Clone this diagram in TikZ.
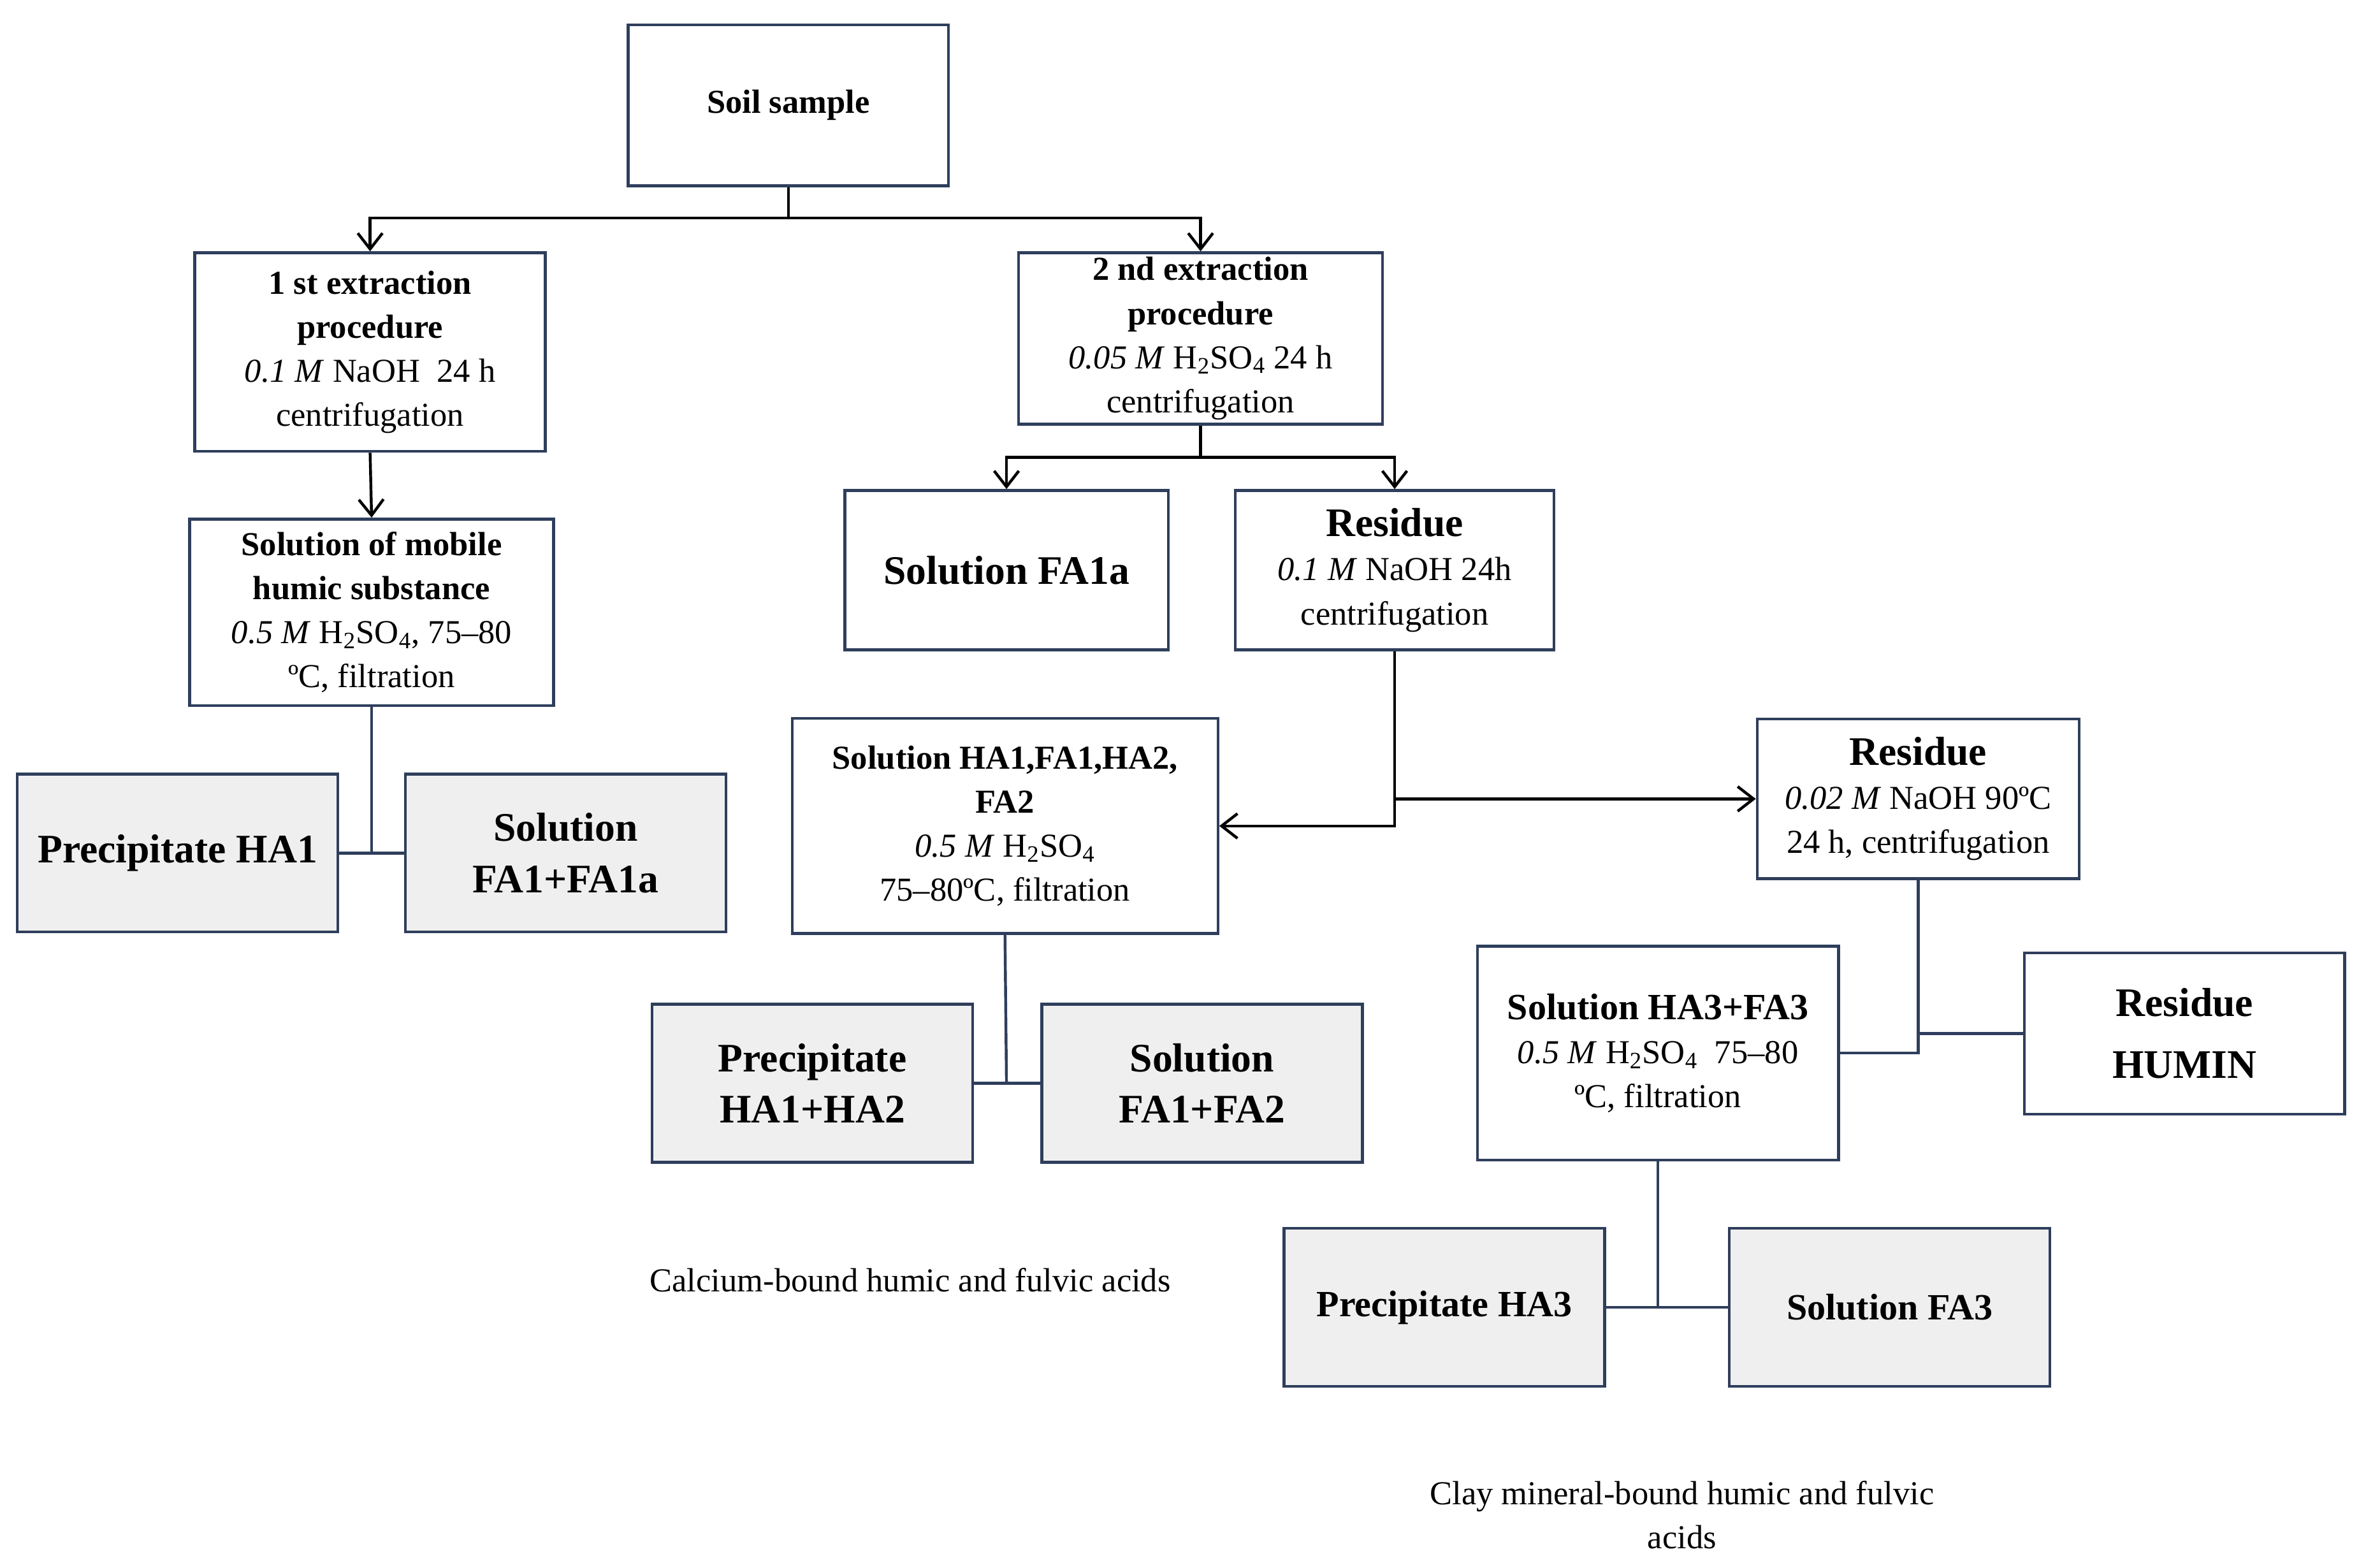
\documentclass[tikz,border=0pt]{standalone}
\usepackage{fontspec}
\setmainfont{Liberation Serif}
\usetikzlibrary{arrows.meta}
\definecolor{bcol}{HTML}{2F3E5C}
\definecolor{gfill}{HTML}{EFEFEF}
\begin{document}
\begin{tikzpicture}[x=0.03cm,y=-0.03cm,
  box/.style={draw=bcol,line width=1.6pt,align=center,inner sep=2pt,font=\fontsize{19}{25}\selectfont},
  gbox/.style={box,fill=gfill},
  big/.style={font=\fontsize{23}{29}\selectfont\bfseries},
  arr/.style={draw=black,line width=1.6pt,-{Straight Barb[length=9pt,width=14pt,line width=1.6pt]}},
  ln/.style={draw=bcol,line width=1.6pt},
  note/.style={font=\fontsize{19}{25}\selectfont,align=center}]
\useasboundingbox (0,0) rectangle (1568,1042);
\node[box,minimum width=6.39cm,minimum height=3.21cm] (soil) at (524,70) {\textbf{Soil sample}};
\node[box,minimum width=6.99cm,minimum height=3.96cm] (e1) at (246,234) {\textbf{1 st extraction}\\\textbf{procedure}\\\textit{0.1 M} NaOH~~24 h\\centrifugation};
\node[box,minimum width=7.26cm,minimum height=3.42cm] (e2) at (798,225) {\textbf{2 nd extraction}\\\textbf{procedure}\\\textit{0.05 M} H\textsubscript{2}SO\textsubscript{4} 24 h\\centrifugation};
\node[box,minimum width=7.26cm,minimum height=3.72cm] (mob) at (247,407) {\textbf{Solution of mobile}\\\textbf{humic substance}\\\textit{0.5 M} H\textsubscript{2}SO\textsubscript{4}, 75--80\\ºC, filtration};
\node[gbox,big,minimum width=6.39cm,minimum height=3.15cm] (pha1) at (118,567) {Precipitate HA1};
\node[gbox,big,minimum width=6.39cm,minimum height=3.15cm] (sfa1) at (376,567) {Solution\\FA1+FA1a};
\node[box,big,minimum width=6.45cm,minimum height=3.18cm] (fa1a) at (669,379) {Solution FA1a};
\node[box,minimum width=6.36cm,minimum height=3.18cm] (res1) at (927,379) {{\fontsize{23}{29}\selectfont\bfseries Residue}\\\textit{0.1 M} NaOH 24h\\centrifugation};
\node[box,minimum width=8.49cm,minimum height=4.29cm] (sha) at (668,549) {\textbf{Solution HA1,FA1,HA2,}\\\textbf{FA2}\\\textit{0.5 M} H\textsubscript{2}SO\textsubscript{4}\\75--80ºC, filtration};
\node[box,minimum width=6.42cm,minimum height=3.18cm] (res2) at (1275,531) {{\fontsize{23}{29}\selectfont\bfseries Residue}\\\textit{0.02 M} NaOH 90ºC\\24 h, centrifugation};
\node[gbox,big,minimum width=6.39cm,minimum height=3.15cm] (pha12) at (540,720) {Precipitate\\HA1+HA2};
\node[gbox,big,minimum width=6.39cm,minimum height=3.15cm] (sfa12) at (799,720) {Solution\\FA1+FA2};
\node[box,minimum width=7.2cm,minimum height=4.26cm] (sha3) at (1102,700) {{\fontsize{21}{27}\selectfont\bfseries Solution HA3+FA3}\\\textit{0.5 M} H\textsubscript{2}SO\textsubscript{4}~~75--80\\ºC, filtration};
\node[box,big,minimum width=6.39cm,minimum height=3.21cm] (humin) at (1452,687) {Residue\\[6pt]HUMIN};
\node[gbox,font=\fontsize{21}{27}\selectfont\bfseries,minimum width=6.39cm,minimum height=3.15cm] (pha3) at (960,869) {Precipitate HA3};
\node[gbox,font=\fontsize{21}{27}\selectfont\bfseries,minimum width=6.39cm,minimum height=3.15cm] (sfa3) at (1256,869) {Solution FA3};
\node[note] (t1) at (605,851) {Calcium-bound humic and fulvic acids};
\node[note] (t2) at (1118,1007) {Clay mineral-bound humic and fulvic\\acids};
% connectors
\coordinate (j1) at (524,145);
\draw[ln,draw=black] (soil.south) -- (j1);
\draw[arr] (j1) -| (e1.north);
\draw[arr] (j1) -| (e2.north);
\draw[arr] (e1.south) -- (mob.north);
\coordinate (j2) at (247,567);
\draw[ln] (mob.south) -- (j2);
\draw[ln] (pha1.east) -- (sfa1.west);
\coordinate (j3) at (798,304);
\draw[ln,draw=black] (e2.south) -- (j3);
\draw[arr] (j3) -| (fa1a.north);
\draw[arr] (j3) -| (res1.north);
\coordinate (j4) at (927,531);
\draw[line width=1.6pt] (res1.south) -- (j4);
\draw[arr] (res1.south) |- (sha.east);
\draw[arr] (j4) -- (res2.west);
\coordinate (j5) at (669,720);
\draw[ln] (sha.south) -- (j5);
\draw[ln] (pha12.east) -- (sfa12.west);
\coordinate (j6) at (1275,700);
\draw[ln] (res2.south) -- (j6) -- (sha3.east |- j6);
\draw[ln] (1275,687) -- (humin.west);
\coordinate (j7) at (1102,869);
\draw[ln] (sha3.south) -- (j7);
\draw[ln] (pha3.east) -- (sfa3.west);
\end{tikzpicture}
\end{document}
